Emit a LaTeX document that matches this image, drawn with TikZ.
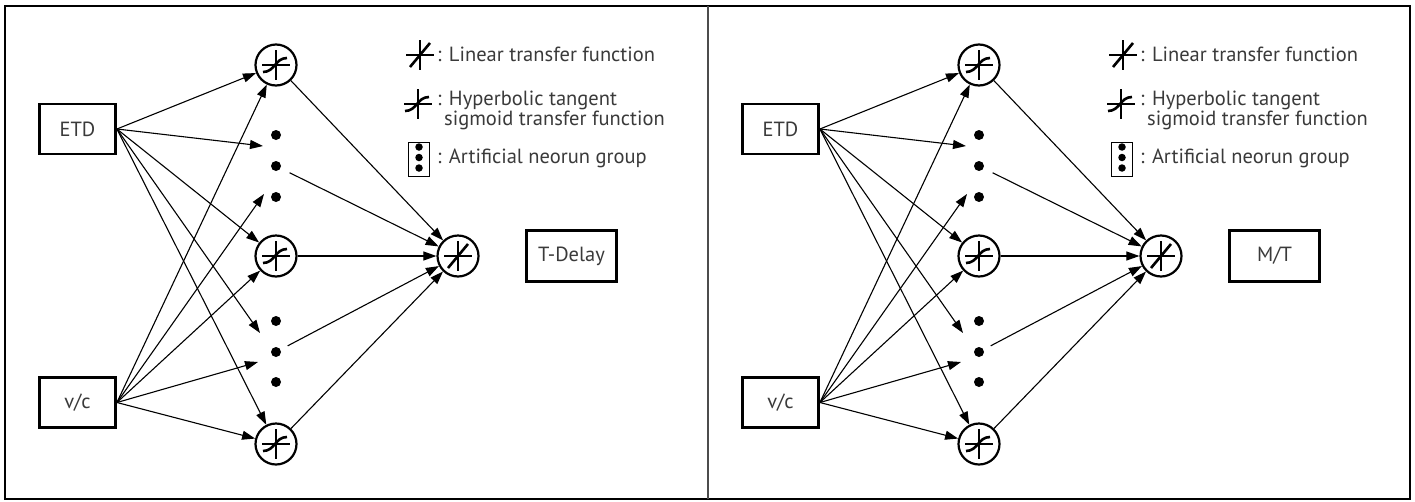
\documentclass[tikz,border=0pt]{standalone}
\usepackage{fontspec}
\setmainfont{PT Sans}
\usetikzlibrary{arrows.meta}
\definecolor{txt}{HTML}{3A3A3A}
\tikzset{
  inbox/.style={draw=black, line width=2.8pt, minimum width=76pt, minimum height=50pt, inner sep=0pt, font=\fontsize{20.5}{22}\selectfont, text=txt},
  outbox/.style={inbox, minimum width=90pt, minimum height=51pt},
  neuron/.style={draw=black, circle, line width=2.2pt, minimum size=41pt, inner sep=0pt},
  dotn/.style={circle, fill=black, minimum size=10pt, inner sep=0pt},
  ldot/.style={circle, fill=black, minimum size=7.5pt, inner sep=0pt},
  conn/.style={line width=1.1pt, -{Triangle[length=13pt,width=9pt]}},
  lg/.style={anchor=west, inner sep=0pt, font=\fontsize{20.5}{22}\selectfont, text=txt},
  pics/tanhsym/.style={code={
    \draw[line width=1.3pt] (-14,0) -- (14,0) (0,-15) -- (0,15);
    \draw[line width=2.6pt] (-13,7) .. controls (-1,7) and (-1,-7) .. (11,-7);}},
  pics/linsym/.style={code={
    \draw[line width=1.3pt] (-14,0) -- (14,0) (0,-15) -- (0,15);
    \draw[line width=2.6pt] (-10,12) -- (10,-12);}}
}
\newcommand\annpanel[3]{%
\begin{scope}[xshift=#2pt]
  % inputs
  \node[inbox] (#1etd) at (77.5,129) {ETD};
  \node[inbox] (#1vc) at (77.5,402.5) {v/c};
  % hidden layer
  \node[neuron] (#1n1) at (276,65) {};
  \node[neuron] (#1n2) at (276,256) {};
  \node[neuron] (#1n3) at (276,444) {};
  \pic at (#1n1) {tanhsym};
  \pic at (#1n2) {tanhsym};
  \pic at (#1n3) {tanhsym};
  \node[dotn] (#1da) at (276,135) {};
  \node[dotn] (#1db) at (276,166) {};
  \node[dotn] (#1dc) at (276,197) {};
  \node[dotn] (#1ea) at (276,321) {};
  \node[dotn] (#1eb) at (276,352) {};
  \node[dotn] (#1ec) at (276,382) {};
  \coordinate (#1t1) at (263,146);
  \coordinate (#1t2) at (264,194);
  \coordinate (#1t3) at (260,333);
  \coordinate (#1t4) at (258,362);
  % output
  \node[neuron] (#1out) at (458,256) {};
  \pic at (#1out) {linsym};
  \node[outbox] (#1lab) at (571.5,256) {#3};
  % connectors
  \draw[conn] (#1etd.east) -- (#1n1);
  \draw[conn] (#1etd.east) -- (#1t1);
  \draw[conn] (#1etd.east) -- (#1n2);
  \draw[conn] (#1etd.east) -- (#1t3);
  \draw[conn] (#1etd.east) -- (#1n3);
  \draw[conn] (#1vc.east) -- (#1n1);
  \draw[conn] (#1vc.east) -- (#1t2);
  \draw[conn] (#1vc.east) -- (#1n2);
  \draw[conn] (#1vc.east) -- (#1t4);
  \draw[conn] (#1vc.east) -- (#1n3);
  \draw[conn] (#1n1) -- (#1out);
  \draw[conn, shorten <=10pt] (#1db) -- (#1out);
  \draw[conn] (#1n2) -- (#1out);
  \draw[conn, shorten <=8pt] (#1eb) -- (#1out);
  \draw[conn] (#1n3) -- (#1out);
  % legend
  \pic at (420,55) {linsym};
  \node[lg] (#1l1) at (437,54) {: Linear transfer function};
  \pic at (418,104) {tanhsym};
  \node[lg] (#1l2) at (437,100) {: Hyperbolic tangent};
  \node[lg] (#1l3) at (444,120) {sigmoid transfer function};
  \node[draw=black, line width=1.3pt, minimum width=21pt, minimum height=34pt, inner sep=0pt] (#1lb) at (419,159.5) {};
  \node[ldot] (#1lx) at (419,147) {};
  \node[ldot] (#1ly) at (419,157.5) {};
  \node[ldot] (#1lz) at (419,168) {};
  \node[lg] (#1l4) at (437,158) {: Artificial neorun group};
\end{scope}}
\begin{document}
\begin{tikzpicture}[x=1pt, y=-1pt]
  \useasboundingbox (0,0) rectangle (1415,501);
  \fill[white] (0,0) rectangle (1415,501);
  \draw[line width=1.6pt] (5,6) rectangle (1410,499);
  \draw[line width=2.3pt, black!70] (708,6) -- (708,499);
  \annpanel{a}{0}{T-Delay}
  \annpanel{b}{703}{M/T}
\end{tikzpicture}
\end{document}
